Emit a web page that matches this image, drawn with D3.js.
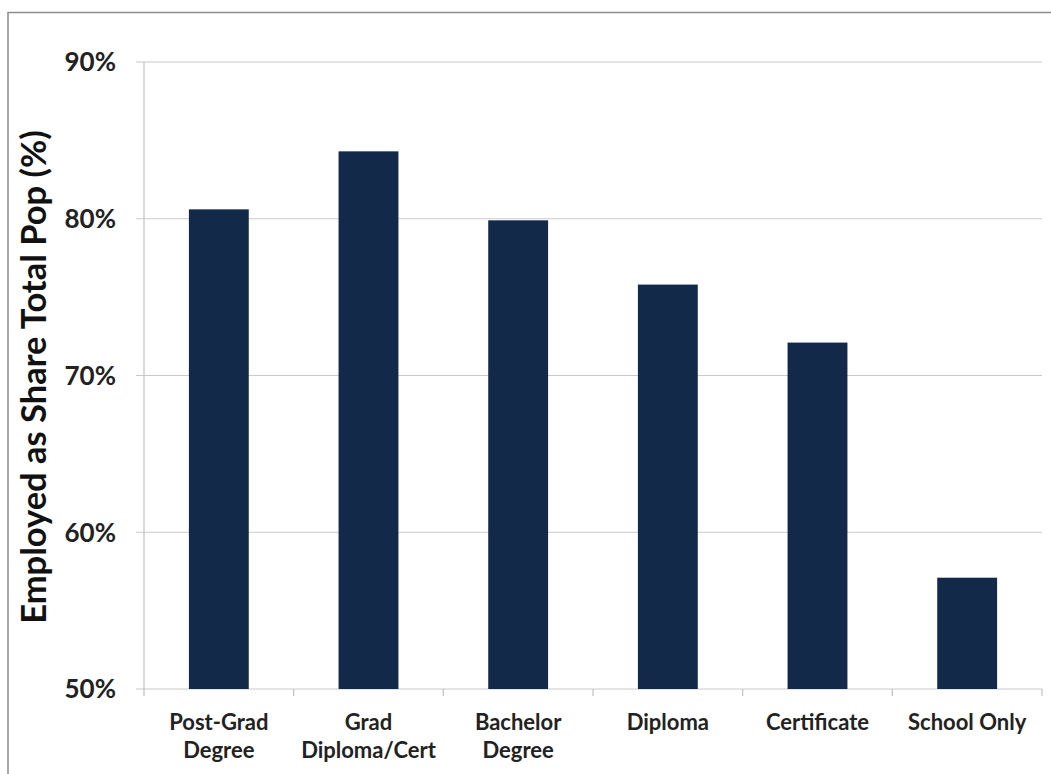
<!DOCTYPE html>
<html><head><meta charset="utf-8">
<script src="https://cdn.jsdelivr.net/npm/d3@7"></script>
<style>body{margin:0;background:#fff}</style>
</head><body>
<svg id="c" width="1051" height="774"></svg>
<script>
const categories = [["Post-Grad","Degree"],["Grad","Diploma/Cert"],["Bachelor","Degree"],["Diploma"],["Certificate"],["School Only"]];
const values = [80.6, 84.3, 79.9, 75.8, 72.1, 57.1];
const yTicks = [50, 60, 70, 80, 90];
const yTitle = "Employed as Share Total Pop (%)";

const svg = d3.select("#c");
const font = "Lato, 'Open Sans', sans-serif";
svg.append("rect").attr("x",8).attr("y",12.5).attr("width",1060).attr("height",780)
  .attr("fill","#fff").attr("stroke","#8c8c8c").attr("stroke-width",1.5);

const pLeft = 144, pRight = 1042, pTop = 62, pBottom = 689;
const keys = categories.map(c=>c.join(" "));
const x = d3.scaleBand().domain(keys).range([pLeft, pRight]).paddingInner(0.6).paddingOuter(0.3);
const y = d3.scaleLinear().domain([50, 90]).range([pBottom, pTop]);

// gridlines
svg.append("g").selectAll("line").data(yTicks).join("line")
  .attr("x1", pLeft-8).attr("x2", pRight).attr("y1", d=>y(d)).attr("y2", d=>y(d))
  .attr("stroke","#cacaca").attr("stroke-width",1.2);
// y axis line
svg.append("line").attr("x1",pLeft).attr("x2",pLeft).attr("y1",pTop).attr("y2",pBottom)
  .attr("stroke","#c0c0c0").attr("stroke-width",1.2);
// x-axis ticks at band boundaries
svg.append("g").selectAll("line").data(d3.range(keys.length+1)).join("line")
  .attr("x1", i => pLeft + i*(pRight-pLeft)/keys.length).attr("x2", i => pLeft + i*(pRight-pLeft)/keys.length)
  .attr("y1", pBottom).attr("y2", pBottom+7).attr("stroke","#c0c0c0").attr("stroke-width",1.2);

// bars
svg.append("g").selectAll("rect").data(values).join("rect")
  .attr("x",(d,i)=>x(keys[i])).attr("width",x.bandwidth())
  .attr("y",d=>y(d)).attr("height",d=>y(50)-y(d)).attr("fill","#13294a");

// y tick labels
svg.append("g").selectAll("text").data(yTicks).join("text")
  .attr("x", 116).attr("y", d=>y(d)).attr("dy","0.36em").attr("text-anchor","end")
  .attr("font-family",font).attr("font-weight","bold").attr("font-size",26).attr("fill","#222")
  .text(d=>d+"%");

// x labels
const xl = svg.append("g").selectAll("text").data(categories).join("text")
  .attr("text-anchor","middle").attr("font-family",font).attr("font-weight","bold")
  .attr("font-size",22).attr("fill","#222");
xl.each(function(c,i){
  const t = d3.select(this);
  const cx = x(keys[i]) + x.bandwidth()/2;
  c.forEach((line,j)=>t.append("tspan").attr("x",cx).attr("y",730+j*28).text(line));
});

// y title
svg.append("text").attr("transform",`translate(46,377) rotate(-90)`)
  .attr("text-anchor","middle").attr("font-family",font).attr("font-weight","bold")
  .attr("font-size",34.5).attr("fill","#111").text(yTitle);
</script>
</body></html>
